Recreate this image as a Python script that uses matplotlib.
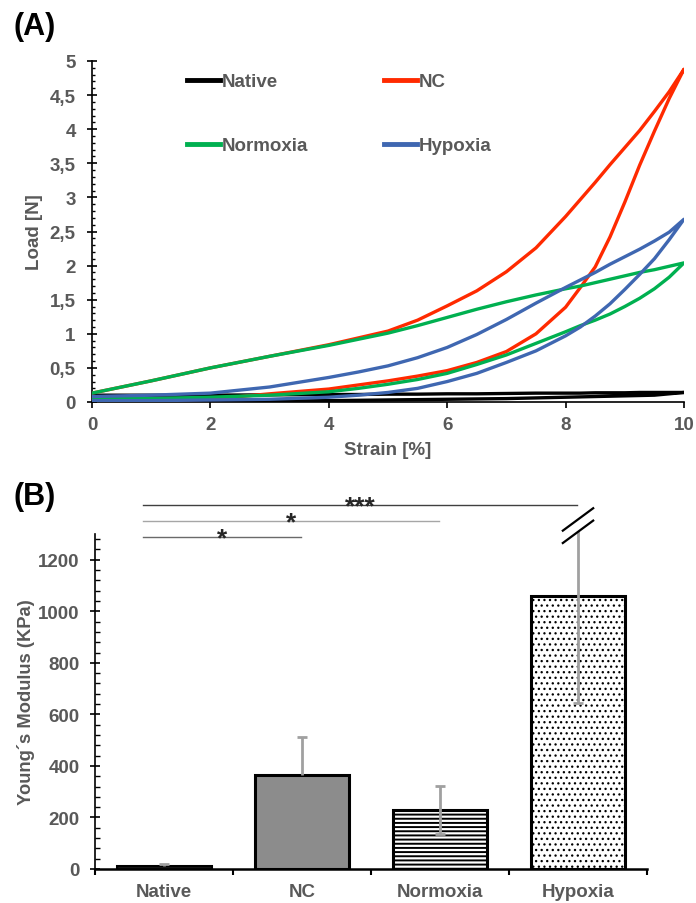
import matplotlib
matplotlib.use('Agg')
import matplotlib.pyplot as plt
from matplotlib.ticker import MultipleLocator, FuncFormatter
from matplotlib.lines import Line2D

plt.rcParams['font.family'] = ['Liberation Sans', 'DejaVu Sans']
plt.rcParams['font.weight'] = 'bold'
plt.rcParams['axes.labelweight'] = 'bold'
plt.rcParams['hatch.linewidth'] = 1.4

TXT = '#595959'

# --- (A) load / strain loops ---
strain_up = [0, 1, 2, 3, 4, 4.5, 5, 5.5, 6, 6.5, 7, 7.5, 8, 8.25, 8.5, 8.75, 9, 9.25, 9.5, 9.75, 10]
strain_down = strain_up[::-1]

native_up = [0.10, 0.10, 0.10, 0.105, 0.11, 0.11, 0.115, 0.115, 0.12, 0.12, 0.125,
             0.13, 0.13, 0.13, 0.135, 0.135, 0.135, 0.14, 0.14, 0.14, 0.14]
native_down = [0.14, 0.12, 0.10, 0.095, 0.09, 0.085, 0.08, 0.075, 0.07, 0.06, 0.05,
               0.045, 0.04, 0.035, 0.03, 0.025, 0.02, 0.015, 0.01, 0.005, 0.0]

nc_up = [0.13, 0.31, 0.50, 0.67, 0.84, 0.94, 1.04, 1.20, 1.41, 1.63, 1.91,
         2.26, 2.72, 2.97, 3.22, 3.48, 3.73, 3.98, 4.26, 4.55, 4.88]
nc_down = [4.88, 4.45, 3.97, 3.47, 2.93, 2.42, 1.98, 1.68, 1.39, 1.00, 0.74,
           0.58, 0.46, 0.38, 0.31, 0.25, 0.19, 0.12, 0.04, 0.03, 0.03]

normo_up = [0.13, 0.31, 0.50, 0.67, 0.83, 0.92, 1.01, 1.12, 1.24, 1.36, 1.47,
            1.57, 1.66, 1.70, 1.75, 1.80, 1.85, 1.90, 1.94, 1.99, 2.04]
normo_down = [2.04, 1.83, 1.66, 1.52, 1.40, 1.29, 1.20, 1.12, 1.03, 0.86, 0.69,
              0.55, 0.42, 0.33, 0.26, 0.20, 0.15, 0.10, 0.07, 0.05, 0.05]

hypo_up = [0.08, 0.10, 0.13, 0.22, 0.36, 0.44, 0.53, 0.65, 0.80, 0.99, 1.21,
           1.45, 1.68, 1.79, 1.90, 2.02, 2.13, 2.24, 2.36, 2.49, 2.68]
hypo_down = [2.68, 2.38, 2.10, 1.87, 1.65, 1.44, 1.26, 1.10, 0.97, 0.75, 0.58,
             0.42, 0.30, 0.20, 0.14, 0.10, 0.07, 0.04, 0.03, 0.02, 0.02]

loops = [
    ('Native', native_up, native_down, '#000000'),
    ('NC', nc_up, nc_down, '#FF2A00'),
    ('Normoxia', normo_up, normo_down, '#00B050'),
    ('Hypoxia', hypo_up, hypo_down, '#3F67B1'),
]

# --- (B) Young's modulus ---
groups = ['Native', 'NC', 'Normoxia', 'Hypoxia']
modulus = [12, 365, 229, 1060]
err_low = [0, 0, 93, 415]
err_high = [6, 148, 94, 415]
sig = [(0, 1, '*'), (0, 2, '*'), (0, 3, '***')]

fig = plt.figure(figsize=(6.96, 9.04), dpi=100)

# ---------------- panel A ----------------
axA = fig.add_axes([92/696, 1-403/904, 592/696, 341/904])
for i, (name, up, down, col) in enumerate(loops):
    axA.plot(strain_up + strain_down, up + down, color=col, lw=2.4, label=name,
             zorder=2+i, solid_joinstyle='round')
axA.set_xlim(0, 10)
axA.set_ylim(0, 5)
axA.xaxis.set_major_locator(MultipleLocator(2))
axA.yaxis.set_major_locator(MultipleLocator(0.5))
axA.yaxis.set_minor_locator(MultipleLocator(0.1))
axA.yaxis.set_major_formatter(FuncFormatter(lambda v, p: ('%g' % v).replace('.', ',')))
for s in ['top', 'right']:
    axA.spines[s].set_visible(False)
for s in ['left', 'bottom']:
    axA.spines[s].set_linewidth(1.2)
axA.tick_params(axis='y', which='major', direction='inout', length=6.5, width=1.2,
                pad=8.5, labelsize=13.5, labelcolor=TXT)
axA.tick_params(axis='y', which='minor', direction='in', length=2.5, width=1)
axA.tick_params(axis='x', which='major', direction='out', length=4.3, width=1.2,
                pad=6, labelsize=13.5, labelcolor=TXT)
axA.set_xlabel('Strain [%]', fontsize=13.5, color=TXT)
axA.xaxis.set_label_coords(0.5, -0.115)
axA.set_ylabel('Load [N]', fontsize=13.5, color=TXT)
axA.yaxis.set_label_coords(-0.083, 0.5)

h = {name: Line2D([], [], color=col, lw=3.5) for name, _, _, col in loops}
leg = axA.legend([h['Native'], h['Normoxia'], h['NC'], h['Hypoxia']],
                 ['Native', 'Normoxia', 'NC', 'Hypoxia'], ncol=2, frameon=False,
                 loc='upper left', bbox_to_anchor=(187/696, 1-74/904),
                 bbox_transform=fig.transFigure, borderpad=0, borderaxespad=0,
                 handlelength=1.75, handletextpad=0.1, columnspacing=4.05,
                 labelspacing=2.5, prop={'size': 13.5, 'weight': 'bold'})
for t in leg.get_texts():
    t.set_color(TXT)

fig.text(13/696, 1-27/904, '(A)', fontsize=22, fontweight='bold', ha='left', va='center')

# ---------------- panel B ----------------
axB = fig.add_axes([95/696, 1-870/904, 552/696, 335/904])
x = list(range(len(groups)))
faces = ['#1a1a1a', '#8c8c8c', 'white', 'white']
hatches = [None, None, '----', '...']
bars = axB.bar(x, modulus, width=0.68, color=faces, edgecolor='black', linewidth=2.2, zorder=2)
for b, ht in zip(bars, hatches):
    if ht:
        b.set_hatch(ht)
try:
    bars[3].set_hatch_linewidth(0.9)
except AttributeError:
    pass
axB.bar(x[0], modulus[0], width=0.68, color=faces[0], edgecolor='black', linewidth=1, zorder=2)

axB.set_xlim(-0.5, 3.5)
axB.set_ylim(0, 1300)
top = axB.get_ylim()[1]

# error bars (grey), the Hypoxia one broken at the top of the axis
ecol = '#a0a0a0'
cap = 0.034
for xi, m, lo, hi in zip(x, modulus, err_low, err_high):
    y0 = m - lo
    y1 = m + hi
    broken = y1 > top
    if broken:
        y1 = top + 10
    axB.vlines(xi, y0, y1, color=ecol, lw=2, zorder=3, clip_on=False)
    if lo > 0:
        axB.hlines(y0, xi - cap, xi + cap, color=ecol, lw=2, zorder=3)
    if not broken:
        axB.hlines(y1, xi - cap, xi + cap, color=ecol, lw=2, zorder=3)
    else:
        for dy in (0, 48):
            axB.plot([xi - 0.11, xi + 0.11], [top - 35 + dy, top + 52 + dy], color='black',
                     lw=1.6, clip_on=False, zorder=4)

# significance brackets
sig_cols = ['#6a6a6a', '#a6a6a6', '#404040']
for k, (a, b, lab) in enumerate(sig):
    yl = 1290 + 61.5 * k
    axB.plot([a - 0.155, b - 0.004], [yl, yl], color=sig_cols[k], lw=1, clip_on=False)
    axB.text((a - 0.155 + b) / 2, yl - 34, lab, fontsize=19, fontweight='bold',
             color='#262626', ha='center', va='baseline', clip_on=False)

axB.set_xticks(x)
axB.set_xticklabels(groups)
axB.set_xticks([-0.5, 0.5, 1.5, 2.5, 3.5], minor=True)
axB.yaxis.set_major_locator(MultipleLocator(200))
axB.yaxis.set_minor_locator(MultipleLocator(40))
for s in ['top', 'right']:
    axB.spines[s].set_visible(False)
axB.spines['left'].set_linewidth(1.2)
axB.spines['bottom'].set_linewidth(1.8)
axB.tick_params(axis='x', which='major', length=0, pad=10, labelsize=13.5, labelcolor=TXT)
axB.tick_params(axis='x', which='minor', direction='out', length=4, width=1.5)
axB.tick_params(axis='y', which='major', direction='inout', length=6.8, width=1.2,
                pad=7.5, labelsize=13.5, labelcolor=TXT)
axB.tick_params(axis='y', which='minor', direction='in', length=3.4, width=1)
axB.set_ylabel('Young´s Modulus (KPa)', fontsize=13.2, color=TXT)
axB.yaxis.set_label_coords(-0.108, 0.5)

fig.text(13/696, 1-497/904, '(B)', fontsize=22, fontweight='bold', ha='left', va='center')

plt.savefig('out.png', dpi=100)
